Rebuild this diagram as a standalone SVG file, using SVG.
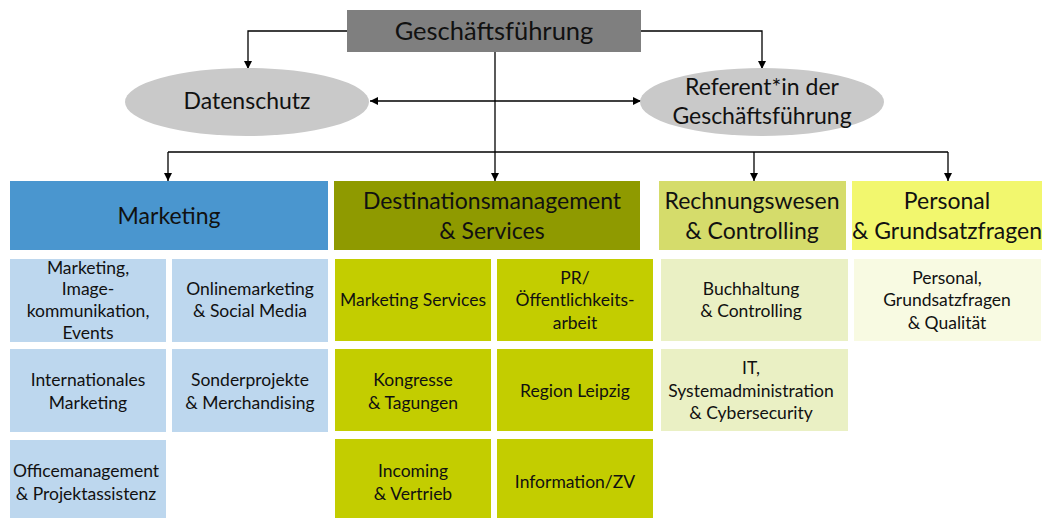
<svg xmlns="http://www.w3.org/2000/svg" width="1048" height="518" viewBox="0 0 1048 518">
  <defs>
    <marker id="arr" viewBox="0 0 10 10" refX="10" refY="5" markerWidth="8" markerHeight="8" markerUnits="userSpaceOnUse" orient="auto-start-reverse">
      <path d="M0,0 L10,5 L0,10 z" fill="#000"/>
    </marker>
    <style>
      text { font-family: Lato, "Open Sans", "DejaVu Sans", sans-serif; fill: #111; text-anchor: middle; }
      .lbl { font-size: 17.5px; }
      .hd { font-size: 23px; }
      .el { font-size: 23px; }
      .conn { fill: none; stroke: #000; stroke-width: 1.3; }
      .mk { fill: #BDD7EE; }
      .ds { fill: #C3CD00; }
      .rw { fill: #EAF0C4; }
      .ps { fill: #F8FAE2; }
    </style>
  </defs>

  <rect width="1048" height="518" fill="#fff"/>

  <!-- connectors -->
  <g id="connectors">
    <path class="conn" d="M347,31 H248 V69" marker-end="url(#arr)"/>
    <path class="conn" d="M641,31 H762 V69" marker-end="url(#arr)"/>
    <path class="conn" d="M370,101 H641" marker-start="url(#arr)" marker-end="url(#arr)"/>
    <path class="conn" d="M495,52 V181"  marker-end="url(#arr)"/>
    <path class="conn" d="M168,152 H948"/>
    <path class="conn" d="M168,152 V181" marker-end="url(#arr)"/>
    <path class="conn" d="M754,152 V181" marker-end="url(#arr)"/>
    <path class="conn" d="M948,152 V181" marker-end="url(#arr)"/>
  </g>

  <!-- top management -->
  <g id="geschaeftsfuehrung">
    <rect x="347" y="10" width="294" height="42" fill="#7F7F7F"/>
    <text x="494" y="40" style="font-size:25.5px">Geschäftsführung</text>
  </g>

  <g id="datenschutz">
    <ellipse cx="247" cy="102" rx="122" ry="34" fill="#C9C9C9"/>
    <text class="el" x="247" y="109">Datenschutz</text>
  </g>

  <g id="referent">
    <ellipse cx="762" cy="102" rx="122" ry="34" fill="#C9C9C9"/>
    <text class="el" x="762" y="95">Referent*in der</text>
    <text class="el" x="762" y="124">Geschäftsführung</text>
  </g>

  <!-- department headers -->
  <g id="marketing">
    <rect x="10" y="181" width="318" height="69" fill="#4A96CF"/>
    <text class="hd" x="169" y="224">Marketing</text>
  </g>

  <g id="destinationsmanagement">
    <rect x="334" y="181" width="306" height="69" fill="#8F9A00"/>
    <text class="hd" x="492" y="209">Destinationsmanagement</text>
    <text class="hd" x="492" y="239">&amp; Services</text>
  </g>

  <g id="rechnungswesen">
    <rect x="659" y="181" width="187" height="69" fill="#D5DC6B"/>
    <text class="hd" x="752" y="209">Rechnungswesen</text>
    <text class="hd" x="752" y="239">&amp; Controlling</text>
  </g>

  <g id="personal">
    <rect x="852" y="181" width="190" height="69" fill="#F2F76E"/>
    <text class="hd" x="947" y="209">Personal</text>
    <text class="hd" x="947" y="239">&amp; Grundsatzfragen</text>
  </g>

  <!-- Marketing units -->
  <g id="mk-image">
    <rect class="mk" x="10" y="259" width="156" height="83"/>
    <text class="lbl" x="88" y="274">Marketing,</text>
    <text class="lbl" x="88" y="295">Image-</text>
    <text class="lbl" x="88" y="317">kommunikation,</text>
    <text class="lbl" x="88" y="339">Events</text>
  </g>
  <g id="mk-online">
    <rect class="mk" x="172" y="259" width="156" height="83"/>
    <text class="lbl" x="250" y="295">Onlinemarketing</text>
    <text class="lbl" x="250" y="317">&amp; Social Media</text>
  </g>
  <g id="mk-international">
    <rect class="mk" x="10" y="349" width="156" height="83"/>
    <text class="lbl" x="88" y="386">Internationales</text>
    <text class="lbl" x="88" y="409">Marketing</text>
  </g>
  <g id="mk-sonder">
    <rect class="mk" x="172" y="349" width="156" height="83"/>
    <text class="lbl" x="250" y="386">Sonderprojekte</text>
    <text class="lbl" x="250" y="409">&amp; Merchandising</text>
  </g>
  <g id="mk-office">
    <rect class="mk" x="10" y="440" width="156" height="80"/>
    <text class="lbl" x="86" y="477">Officemanagement</text>
    <text class="lbl" x="86" y="500">&amp; Projektassistenz</text>
  </g>

  <!-- Destinationsmanagement units -->
  <g id="ds-marketing-services">
    <rect class="ds" x="335" y="259" width="156" height="82"/>
    <text class="lbl" x="413" y="306">Marketing Services</text>
  </g>
  <g id="ds-pr">
    <rect class="ds" x="497" y="259" width="156" height="82"/>
    <text class="lbl" x="575" y="284">PR/</text>
    <text class="lbl" x="575" y="306">Öffentlichkeits-</text>
    <text class="lbl" x="575" y="329">arbeit</text>
  </g>
  <g id="ds-kongresse">
    <rect class="ds" x="335" y="349" width="156" height="82"/>
    <text class="lbl" x="413" y="386">Kongresse</text>
    <text class="lbl" x="413" y="409">&amp; Tagungen</text>
  </g>
  <g id="ds-region">
    <rect class="ds" x="497" y="349" width="156" height="82"/>
    <text class="lbl" x="575" y="397">Region Leipzig</text>
  </g>
  <g id="ds-incoming">
    <rect class="ds" x="335" y="439" width="156" height="81"/>
    <text class="lbl" x="413" y="477">Incoming</text>
    <text class="lbl" x="413" y="500">&amp; Vertrieb</text>
  </g>
  <g id="ds-information">
    <rect class="ds" x="497" y="439" width="156" height="81"/>
    <text class="lbl" x="575" y="488">Information/ZV</text>
  </g>

  <!-- Rechnungswesen units -->
  <g id="rw-buchhaltung">
    <rect class="rw" x="661" y="259" width="187" height="82"/>
    <text class="lbl" x="751" y="295">Buchhaltung</text>
    <text class="lbl" x="751" y="317">&amp; Controlling</text>
  </g>
  <g id="rw-it">
    <rect class="rw" x="661" y="349" width="187" height="82"/>
    <text class="lbl" x="751" y="374">IT,</text>
    <text class="lbl" x="751" y="397">Systemadministration</text>
    <text class="lbl" x="751" y="419">&amp; Cybersecurity</text>
  </g>

  <!-- Personal units -->
  <g id="ps-personal">
    <rect class="ps" x="854" y="259" width="187" height="82"/>
    <text class="lbl" x="947" y="284">Personal,</text>
    <text class="lbl" x="947" y="306">Grundsatzfragen</text>
    <text class="lbl" x="947" y="329">&amp; Qualität</text>
  </g>
</svg>
